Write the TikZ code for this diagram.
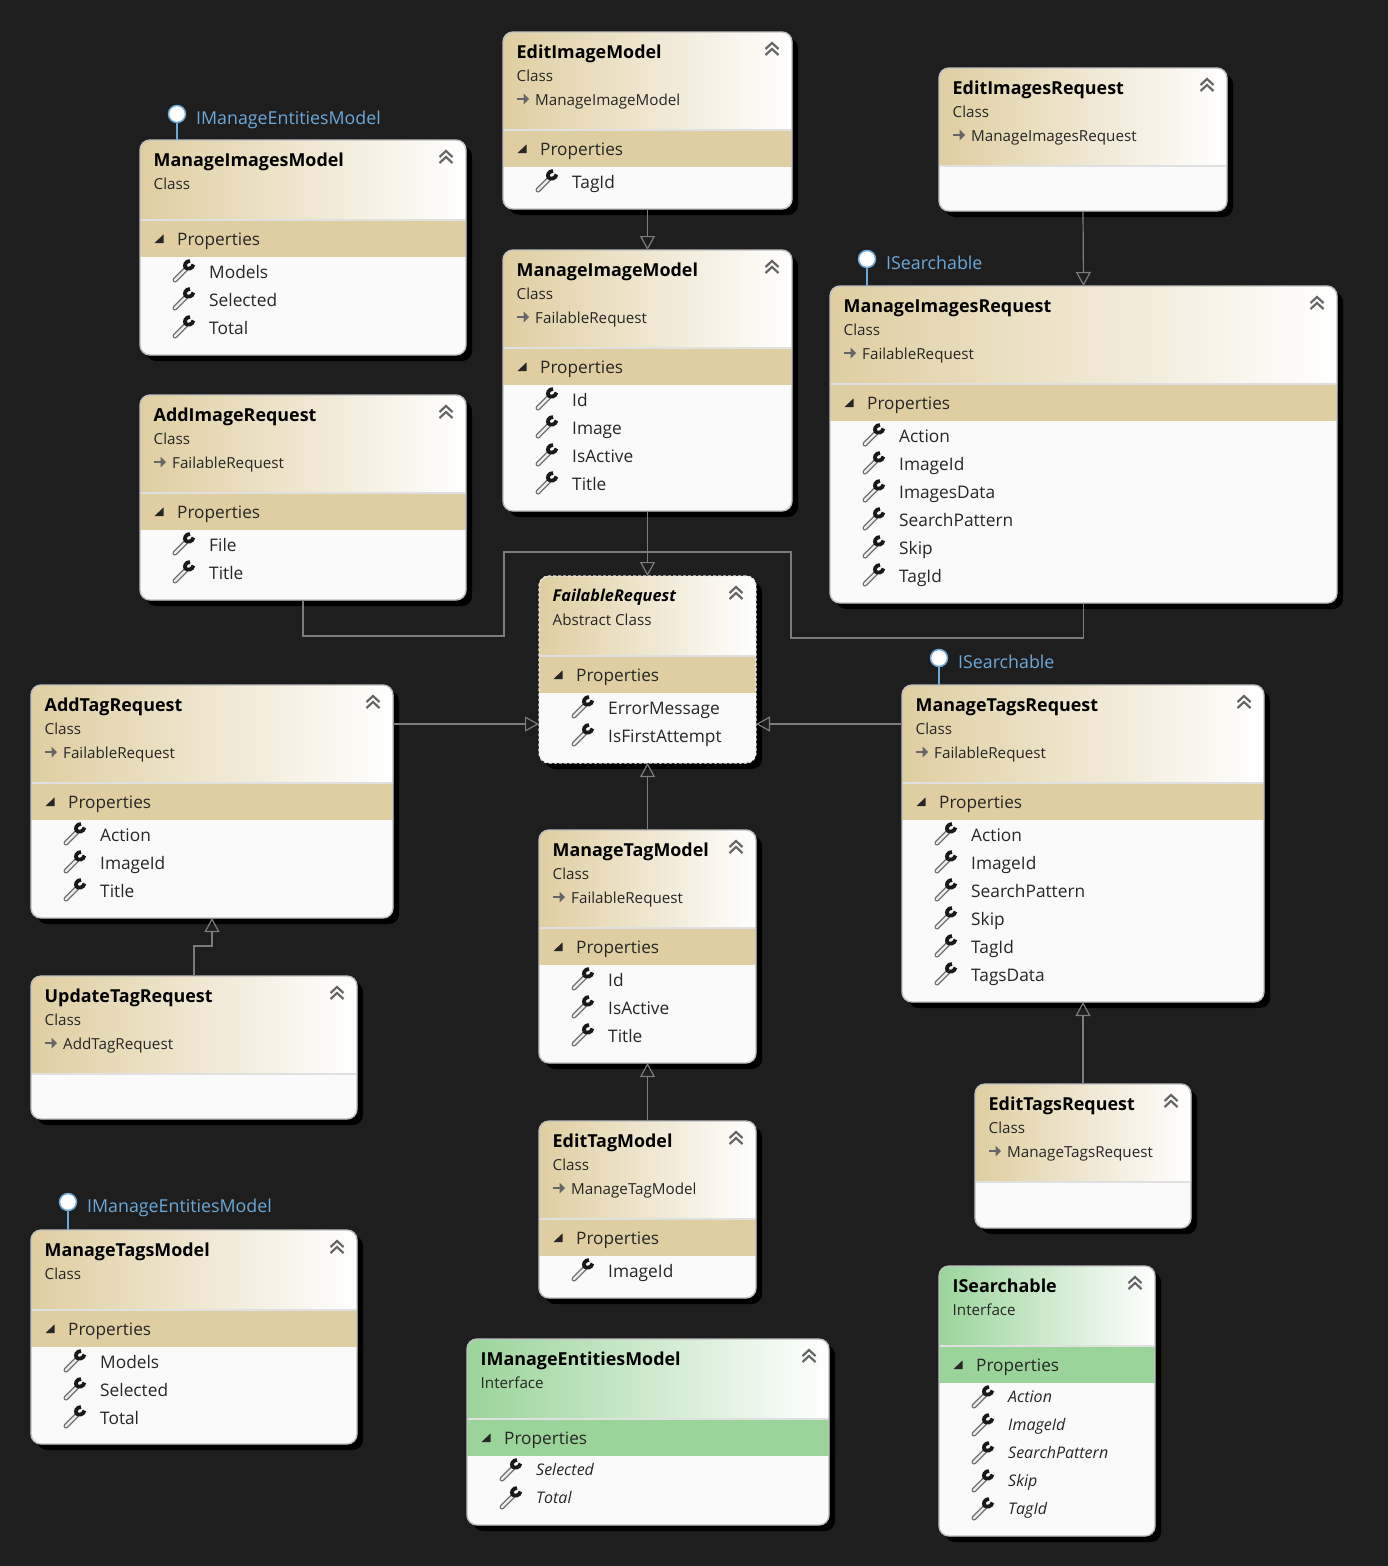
\documentclass[tikz,border=0pt]{standalone}
\usepackage{fontspec}
\setmainfont{Open Sans}
\usetikzlibrary{arrows.meta,calc}
\definecolor{canvas}{HTML}{1E1E1E}
\definecolor{classtan}{HTML}{DFCEA1}
\definecolor{ifacegreen}{HTML}{9BD49B}
\definecolor{linkgray}{HTML}{7C7C7C}
\definecolor{lolliblue}{HTML}{6CA9D8}
\tikzset{
	x=1pt, y=-1pt,
	cardborder/.style={draw=white!75!black},
	classcard/.style={cardhead=classtan, itemfont=\normalfont, titlefont=\bfseries, itemlift=0, titlelift=0},
	ifacecard/.style={cardhead=ifacegreen, itemfont=\fontsize{16}{18}\selectfont\itshape, itemlift=1.5},
	abstractcard/.style={cardborder/.style={draw=white!92!black, densely dashed}, titlelift=1, titlefont=\bfseries\itshape\fontsize{16.3}{18}\selectfont},
	cardhead/.store in=\cardhead,
	itemfont/.store in=\itemfont,
	titlefont/.store in=\titlefont,
	itemlift/.store in=\itemlift,
	titlelift/.store in=\titlelift,
	cardtitle/.style={anchor=base west, inner sep=0pt, text=black, font=\fontsize{17.9}{20}\selectfont},
	cardkind/.style={anchor=base west, inner sep=0pt, text=black!85, font=\fontsize{15.2}{17}\selectfont},
	cardband/.style={anchor=base west, inner sep=0pt, text=black!85, font=\fontsize{17.2}{20}\selectfont},
	carditem/.style={anchor=base west, inner sep=0pt, text=black!85, font=\fontsize{17.3}{20}\selectfont},
	link/.style={draw=linkgray, line width=1.2pt, -{Triangle[open, length=14pt, width=15pt, line width=1.2pt]}},
	plainlink/.style={draw=linkgray, line width=1.2pt},
	lollipop/.style={circle, draw=lolliblue, fill=white, line width=1.5pt, minimum size=17pt, inner sep=0pt},
	lollilabel/.style={anchor=base west, inner sep=0pt, text=lolliblue, font=\fontsize{17.8}{20}\selectfont},
	wrench/.pic={
		\draw[black!55, line width=5pt, line cap=round] (-8,9) -- (3,-2);
		\draw[white!92!black, line width=2.4pt, line cap=round] (-8,9) -- (3,-2);
		\draw[black!90, line width=3.8pt] (7,-10) .. controls (2.5,-10) and (1,-5.5) .. (2.5,-3.5) .. controls (4.5,-1.5) and (9.5,-2) .. (10.5,-6.5);
	},
	collapse/.pic={
		\draw[black!60, line width=2.2pt] (-6.5,0) -- (0,-6) -- (6.5,0);
		\draw[black!60, line width=2.2pt] (-6.5,6) -- (0,0) -- (6.5,6);
	},
	bandmark/.pic={
		\fill[black!85] (4.5,-4.5) -- (4.5,4) -- (-4.5,4) -- cycle;
	},
	basemark/.pic={
		\draw[black!60, line width=2.6pt] (-6,0) -- (2,0);
		\fill[black!60] (0.5,-5.5) -- (6,0) -- (0.5,5.5) -- cycle;
	},
}
\newcommand{\typecard}[9][]{%
	\begin{scope}[classcard,#1,shift={(#4,#5)}]
		\pgfmathsetmacro{\cardw}{#6-#4}
		\pgfmathsetmacro{\cardh}{#7-#5}
		\pgfmathsetmacro{\halfw}{\cardw/2}
		\pgfmathsetmacro{\halfh}{\cardh/2}
		\def\basetext{#8}
		\ifx\basetext\empty\def\hdrh{80}\else\def\hdrh{98}\fi
		\fill[black, rounded corners=10pt] (6,6) rectangle (\cardw+6,\cardh+6);
		\node (#2) [anchor=north west, inner sep=0pt, outer sep=0pt, minimum width=\cardw pt, minimum height=\cardh pt,
			fill=white!98!black, cardborder, line width=1.4pt, rounded corners=10pt,
			path picture={
				\fill[sharp corners, left color=\cardhead, right color=white, draw=none] (-\halfw,-\halfh) rectangle (\halfw,\hdrh-\halfh);
				\draw[sharp corners, solid, white!88!black, line width=1.5pt] (-\halfw,\hdrh-\halfh) -- (\halfw,\hdrh-\halfh);
				\ifx\relax#9\relax\else
					\fill[sharp corners, \cardhead] (-\halfw,\hdrh+1-\halfh) rectangle (\halfw,\hdrh+37-\halfh);
				\fi
			}] at (0,0) {};
		\node (#2-title) [cardtitle] at (13.5,26.6-\titlelift) {\titlefont #2};
		\node (#2-kind) [cardkind] at (13.5,49) {#3};
		\ifx\basetext\empty\else
			\pic at (20,67) {basemark};
			\node (#2-base) [cardkind] at (32,73) {#8};
		\fi
		\pic at (\cardw-20,17) {collapse};
		\ifx\relax#9\relax\else
			\pic at (19,\hdrh+19) {bandmark};
			\node (#2-band) [cardband] at (37,\hdrh+25.7) {Properties};
			\foreach \item [count=\i] in {#9} {
				\pic at (43,\hdrh+23+28*\i) {wrench};
				\node (#2-item\i) [carditem] at (69,\hdrh+30+28*\i-\itemlift) {\itemfont\item};
			}
		\fi
	\end{scope}
}
\newcommand{\lolli}[5]{%
	\node (#1) [lollipop] at (#3,#4) {};
	\node (#1-label) [lollilabel] at (#3+19,#4+10) {#5};
	\draw[lolliblue, line width=1.5pt] (#1) -- (#1 |- #2.north);
}
\begin{document}
\begin{tikzpicture}
	\useasboundingbox (0,0) rectangle (1388,1566);
	\fill[canvas] (0,0) rectangle (1388,1566);

	\typecard{EditImageModel}{Class}{503}{32}{792}{209}{ManageImageModel}{TagId}
	\typecard{ManageImageModel}{Class}{503}{250}{792}{511}{FailableRequest}{Id,Image,IsActive,Title}
	\typecard{EditImagesRequest}{Class}{939}{68}{1227}{211}{ManageImagesRequest}{}
	\typecard{ManageImagesRequest}{Class}{830}{286}{1337}{603}{FailableRequest}{Action,ImageId,ImagesData,SearchPattern,Skip,TagId}
	\typecard{ManageImagesModel}{Class}{140}{140}{466}{355}{}{Models,Selected,Total}
	\typecard{AddImageRequest}{Class}{140}{395}{466}{600}{FailableRequest}{File,Title}
	\typecard[abstractcard]{FailableRequest}{Abstract Class}{539}{576}{756}{763}{}{ErrorMessage,IsFirstAttempt}
	\typecard{AddTagRequest}{Class}{31}{685}{393}{918}{FailableRequest}{Action,ImageId,Title}
	\typecard{ManageTagsRequest}{Class}{902}{685}{1264}{1002}{FailableRequest}{Action,ImageId,SearchPattern,Skip,TagId,TagsData}
	\typecard{ManageTagModel}{Class}{539}{830}{756}{1063}{FailableRequest}{Id,IsActive,Title}
	\typecard{UpdateTagRequest}{Class}{31}{976}{357}{1119}{AddTagRequest}{}
	\typecard{EditTagModel}{Class}{539}{1121}{756}{1298}{ManageTagModel}{ImageId}
	\typecard{EditTagsRequest}{Class}{975}{1084}{1191}{1228}{ManageTagsRequest}{}
	\typecard{ManageTagsModel}{Class}{31}{1230}{357}{1444}{}{Models,Selected,Total}
	\typecard[ifacecard]{IManageEntitiesModel}{Interface}{467}{1339}{829}{1525}{}{Selected,Total}
	\typecard[ifacecard]{ISearchable}{Interface}{939}{1266}{1155}{1536}{}{Action,ImageId,SearchPattern,Skip,TagId}

	\lolli{lolliA}{ManageImagesModel}{177}{114}{IManageEntitiesModel}
	\lolli{lolliB}{ManageImagesRequest}{867}{259}{ISearchable}
	\lolli{lolliC}{ManageTagsRequest}{939}{658}{ISearchable}
	\lolli{lolliD}{ManageTagsModel}{68}{1202}{IManageEntitiesModel}

	\coordinate (busjoin) at ([yshift=24pt]FailableRequest.north);
	\coordinate (busleft) at (504,552);
	\coordinate (busleftlow) at (504,636);
	\coordinate (busright) at (791,552);
	\coordinate (busrightlow) at (791,638);
	\coordinate (failwest) at ([yshift=-148pt]FailableRequest.north west);
	\coordinate (faileast) at ([yshift=-148pt]FailableRequest.north east);
	\coordinate (updatebend) at ([yshift=30pt]UpdateTagRequest.north);

	\path[every edge/.style={link}]
	(EditImageModel.south) edge (ManageImageModel.north)
	(ManageImageModel.south) edge (FailableRequest.north)
	(EditImagesRequest.south) edge (ManageImagesRequest.north)
	(failwest -| AddTagRequest.east) edge (failwest)
	(faileast -| ManageTagsRequest.west) edge (faileast)
	(ManageTagModel.north) edge (FailableRequest.south)
	(EditTagModel.north) edge (ManageTagModel.south)
	(EditTagsRequest.north) edge (ManageTagsRequest.south);
	\draw[plainlink] (AddImageRequest.south) |- (busleftlow) -- (busleft) -- (busjoin);
	\draw[plainlink] (ManageImagesRequest.south) |- (busrightlow) -- (busright) -- (busjoin);
	\draw[link] (UpdateTagRequest.north) -- (updatebend) -| (AddTagRequest.south);
\end{tikzpicture}
\end{document}
